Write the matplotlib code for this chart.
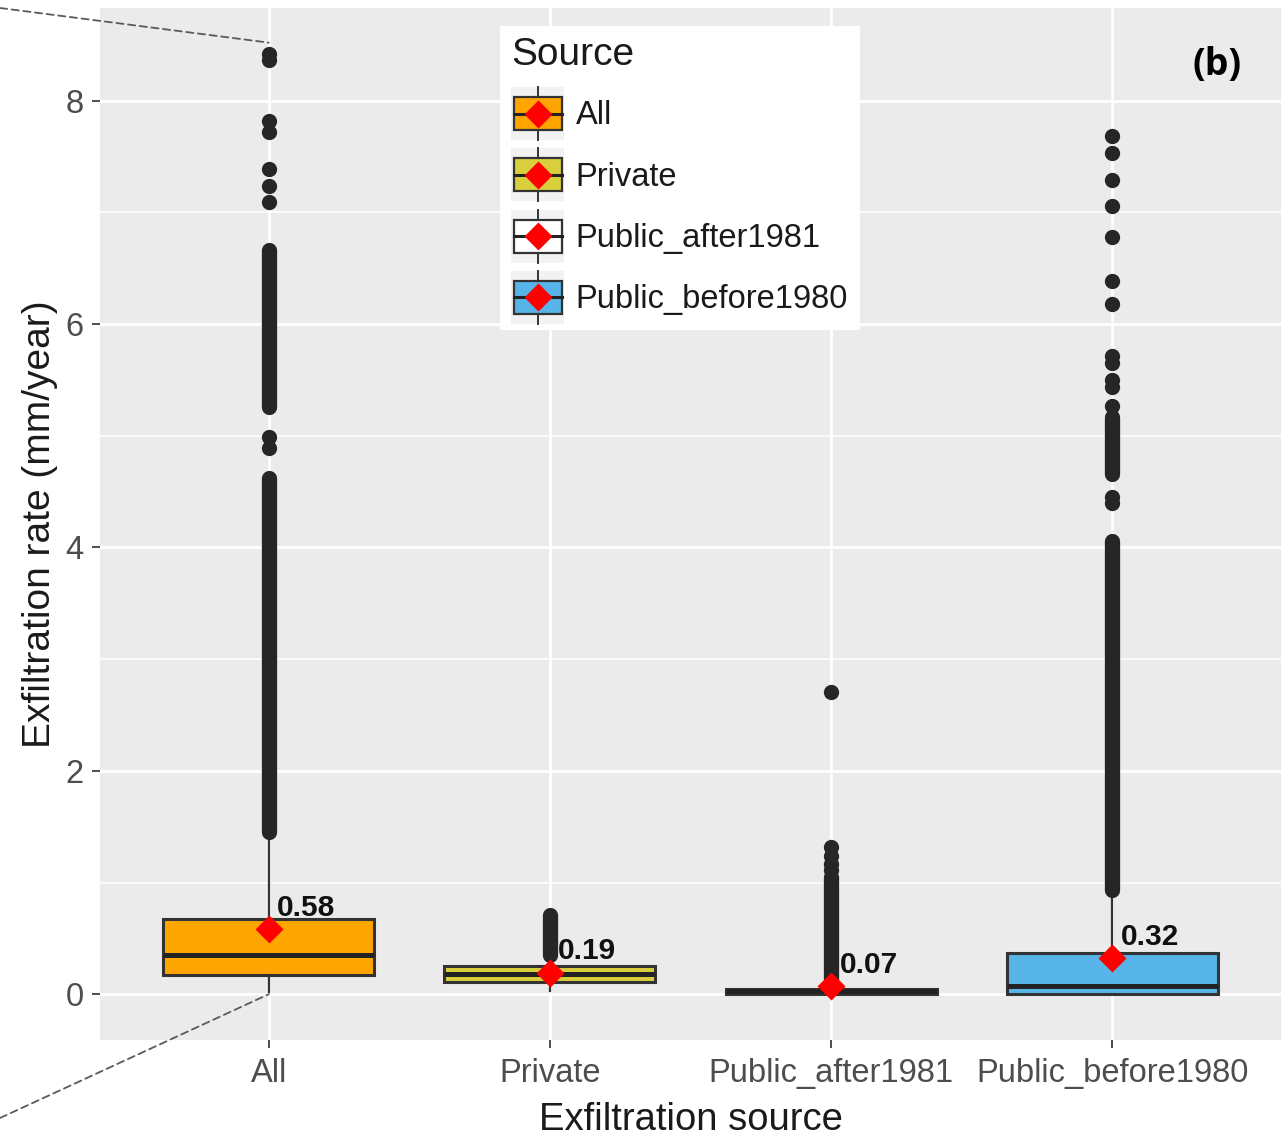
import matplotlib
matplotlib.use("Agg")
import matplotlib.pyplot as plt
from matplotlib.patches import Patch, Rectangle, ConnectionPatch
from matplotlib.lines import Line2D
from matplotlib.legend_handler import HandlerBase

plt.rcParams['font.family'] = ['Liberation Sans', 'DejaVu Sans']

# exfiltration sources and their box statistics (mm/year)
sources = ["All", "Private", "Public_after1981", "Public_before1980"]
fills = ["#FFA500", "#D9CF3C", "#FFFFFF", "#56B4E9"]
q1 = [0.17, 0.11, 0.0, 0.0]
median = [0.35, 0.18, 0.025, 0.07]
q3 = [0.67, 0.25, 0.05, 0.37]
whisker_lo = [0.02, 0.03, 0.0, 0.0]
whisker_hi = [1.40, 0.33, 0.12, 0.90]
means = [0.58, 0.19, 0.07, 0.32]

# outliers: single points, and stretches so dense they merge into a bar
outliers_all = [8.42, 8.36, 7.82, 7.72, 7.39, 7.24, 7.09, 4.99, 4.89]
outliers_private = []
outliers_after1981 = [1.11, 1.17, 1.24, 1.32, 2.71]
outliers_before1980 = [7.68, 7.53, 7.29, 7.06, 6.78, 6.39, 6.18, 5.71, 5.65,
                       5.50, 5.44, 5.27, 4.45, 4.40]
dense_all = [(5.26, 6.66), (1.45, 4.62)]
dense_private = [(0.35, 0.71)]
dense_after1981 = [(0.13, 1.05)]
dense_before1980 = [(0.93, 4.06), (4.66, 5.17)]

outliers = [outliers_all, outliers_private, outliers_after1981, outliers_before1980]
dense = [dense_all, dense_private, dense_after1981, dense_before1980]

yticks = [0, 2, 4, 6, 8]

edge = "#333333"
dot = "#262626"
dot_ms = 11

fig = plt.figure(figsize=(12.88, 11.4), dpi=100)
ax = fig.add_axes([100/1288, 100/1140, 1181/1288, 1032/1140])
ax.set_facecolor("#EBEBEB")
for s in ax.spines.values():
    s.set_visible(False)

pos = list(range(1, len(sources) + 1))
stats = []
for i in range(len(sources)):
    stats.append(dict(med=median[i], q1=q1[i], q3=q3[i],
                      whislo=whisker_lo[i], whishi=whisker_hi[i],
                      fliers=[], label=sources[i]))

bp = ax.bxp(stats, positions=pos, widths=0.75, patch_artist=True,
            showcaps=False, showfliers=False,
            boxprops=dict(edgecolor=edge, linewidth=2.2),
            medianprops=dict(color="#222222", linewidth=3.6, solid_capstyle='butt'),
            whiskerprops=dict(color=edge, linewidth=1.6),
            zorder=2)
for patch, c in zip(bp['boxes'], fills):
    patch.set_facecolor(c)

# outlier points and merged runs
for i, p in enumerate(pos):
    for lo, hi in dense[i]:
        ax.plot([p, p], [lo, hi], color=dot, lw=dot_ms,
                solid_capstyle='round', zorder=3)
    if outliers[i]:
        ax.plot([p] * len(outliers[i]), outliers[i], 'o', color=dot,
                ms=dot_ms, mec='none', zorder=3)

# mean diamonds with labels
ax.plot(pos, means, 'D', color='red', ms=14, mec='none', ls='none', zorder=4)
for p, m in zip(pos, means):
    ax.annotate(f"{m:.2f}", (p, m), xytext=(6, 10), textcoords='offset points',
                fontsize=21.5, fontweight='bold', color='#111111',
                ha='left', va='baseline', zorder=5)

ax.set_xlim(0.4, 4.6)
ax.set_ylim(-0.41, 8.83)
ax.set_xticks(pos)
ax.set_xticklabels(sources)
ax.set_yticks(yticks)
ax.set_yticks([1, 3, 5, 7], minor=True)
ax.tick_params(axis='both', which='major', labelsize=23.5, labelcolor='#4D4D4D',
               color='#4D4D4D', length=5.8, width=1.4)
ax.tick_params(axis='x', pad=7)
ax.tick_params(axis='y', pad=6)
ax.tick_params(axis='y', which='minor', length=0)
ax.grid(True, which='major', color='white', lw=2.0)
ax.grid(True, which='minor', axis='y', color='white', lw=1.1)
ax.set_axisbelow(True)

ax.set_xlabel("Exfiltration source", fontsize=27.5, color='#1a1a1a', va='center')
ax.set_ylabel("Exfiltration rate (mm/year)", fontsize=28, color='#1a1a1a', va='center')
ax.xaxis.set_label_coords(0.5, -0.0775)
ax.yaxis.set_label_coords(-0.0508, 0.5)

ax.text(0.946, 0.945, "(b)", transform=ax.transAxes, fontsize=27,
        fontweight='bold', family='Open Sans', ha='center', va='center')


class BoxKey(HandlerBase):
    def create_artists(self, legend, orig_handle, xdescent, ydescent,
                       width, height, fontsize, trans):
        cx = -xdescent + width / 2
        cy = -ydescent + height / 2
        cell = width
        bw, bh = cell * 0.9, cell * 0.62
        bg = Rectangle((cx - cell / 2, cy - cell / 2), cell, cell,
                       fc="#F2F2F2", ec='none', transform=trans)
        stem = Line2D([cx, cx], [cy - cell / 2, cy + cell / 2], color=edge,
                      lw=1.4, transform=trans)
        box = Rectangle((cx - bw / 2, cy - bh / 2), bw, bh,
                        fc=orig_handle.get_facecolor(), ec=edge, lw=1.6,
                        transform=trans)
        med = Line2D([cx - bw / 2, cx + bw / 2], [cy, cy], color="#222222",
                     lw=2.2, transform=trans)
        dia = Line2D([cx], [cy], marker='D', ms=14, color='red', mec='none',
                     ls='none', transform=trans)
        return [bg, stem, box, med, dia]


handles = [Patch(facecolor=c, label=s) for c, s in zip(fills, sources)]
leg = ax.legend(handles=handles, title="Source", loc='upper left',
                bbox_to_anchor=(500/1288, 1 - 26/1140),
                bbox_transform=fig.transFigure, borderaxespad=0,
                fontsize=23.5, title_fontsize=28, alignment='left',
                handler_map={Patch: BoxKey()}, handlelength=1.62,
                handleheight=1.62, labelspacing=0.58, handletextpad=0.35,
                borderpad=0.35, frameon=True, fancybox=False,
                facecolor='white', edgecolor='none', framealpha=1)
leg.get_title().set_color('#1a1a1a')
for t in leg.get_texts():
    t.set_color('#1a1a1a')

# dashed lines linking the "All" column to the neighbouring panel
for fy, yv in [(1 - 8/1140, 8.52), (1 - 1118/1140, 0.0)]:
    con = ConnectionPatch(xyA=(0, fy), coordsA=fig.transFigure,
                          xyB=(1, yv), coordsB=ax.transData,
                          ls=(0, (4, 2.5)), color='#5A5A5A', lw=1.3)
    con.set_clip_on(False)
    fig.add_artist(con)

fig.savefig("out.png", dpi=100)
